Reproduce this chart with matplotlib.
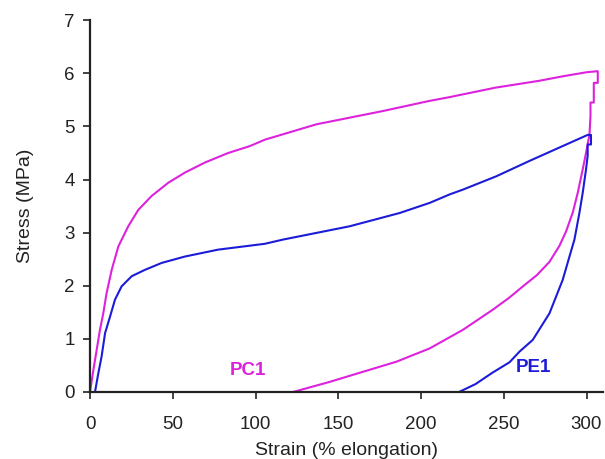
import numpy as np
import matplotlib.pyplot as plt

plt.rcParams['font.family'] = ['Liberation Sans', 'DejaVu Sans']

# PC1 (magenta) loop: loading then unloading
pc1_strain = [0, 2, 4, 6, 8, 10, 13.1, 17.1, 23.1, 29.2, 37.2, 47.3, 57.3, 69.4, 83.5,
              96.6, 105.6, 136.8, 177, 205, 217, 245, 271.6, 285, 300, 306.8,
              306.8, 304.4, 304.4, 302.4, 302.4, 301.8, 299.7, 297.7, 294.7, 291.7,
              287.6, 283.6, 277.6, 270, 262, 253.5, 243.4, 225.3, 205.2, 185.1,
              164.9, 144.8, 122.7]
pc1_stress = [0, 0.41, 0.79, 1.17, 1.48, 1.86, 2.30, 2.74, 3.12, 3.43, 3.69, 3.94, 4.13, 4.32, 4.50,
              4.63, 4.75, 5.04, 5.29, 5.48, 5.55, 5.73, 5.86, 5.94, 6.02, 6.04,
              5.82, 5.82, 5.45, 5.45, 5.2, 4.85, 4.5, 4.19, 3.75, 3.38,
              3.02, 2.75, 2.45, 2.2, 2.0, 1.78, 1.55, 1.17, 0.82, 0.57,
              0.38, 0.19, 0]

# PE1 (blue) loop: loading then unloading
pe1_strain = [3, 5, 7, 9.1, 12.1, 15.1, 19.1, 25.2, 33.2, 43.3, 57.3, 77.4, 105.6,
              116.7, 156.9, 187.1, 205.2, 217.3, 225.3, 245.4, 265.5, 285.6, 300.7,
              302.7, 302.7, 300.7, 300.7, 299.7, 297.7, 295.7, 292.7, 289.7, 285.6,
              277.6, 267.5, 259.5, 253.5, 243, 233, 223]
pe1_stress = [0, 0.35, 0.67, 1.11, 1.42, 1.74, 1.99, 2.18, 2.30, 2.43, 2.55, 2.68, 2.79,
              2.87, 3.12, 3.37, 3.56, 3.72, 3.81, 4.06, 4.35, 4.63, 4.84,
              4.84, 4.66, 4.66, 4.45, 4.19, 3.75, 3.37, 2.87, 2.55, 2.11,
              1.48, 0.98, 0.76, 0.56, 0.36, 0.15, 0]

magenta = '#dd22dd'
blue = '#1c1cd8'

fig = plt.figure(figsize=(6.05, 4.59), dpi=100)
ax = fig.add_axes([0.1488, 0.146, 0.848, 0.81])

ax.plot(pc1_strain, pc1_stress, color=magenta, lw=1.5)
ax.plot(pe1_strain, pe1_stress, color=blue, lw=1.5)

ax.text(95.4, 0.40, 'PC1', color=magenta, fontsize=13.5, fontweight='bold',
        ha='center', va='center')
ax.text(268, 0.46, 'PE1', color=blue, fontsize=13.5, fontweight='bold',
        ha='center', va='center')

ax.set_xlim(0, 310)
ax.set_ylim(0, 7)
ax.set_xticks([0, 50, 100, 150, 200, 250, 300])
ax.set_yticks(range(0, 8))

for s in ['top', 'right']:
    ax.spines[s].set_visible(False)
for s in ['left', 'bottom']:
    ax.spines[s].set_linewidth(1.6)
    ax.spines[s].set_color('#222222')

ax.tick_params(axis='both', direction='out', length=5, width=1.2, colors='#222222',
               labelsize=13.5, labelcolor='#222222')
ax.tick_params(axis='x', pad=12.5)
ax.tick_params(axis='y', pad=6)

ax.set_xlabel('Strain (% elongation)', fontsize=14, color='#222222', labelpad=6)
ax.set_ylabel('Stress (MPa)', fontsize=14, color='#222222', labelpad=22)

fig.savefig('out.png', dpi=100)
